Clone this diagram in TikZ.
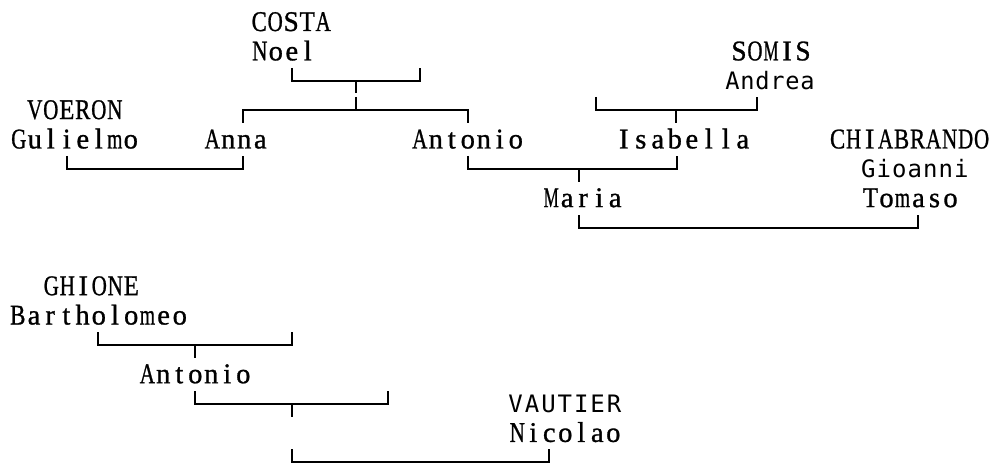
\documentclass[tikz,border=0pt]{standalone}
\usepackage{graphicx}
\usepackage{fontspec}
\newfontfamily\serifmono[FakeBold=1.0]{Liberation Serif}
\newfontfamily\sansmono{DejaVu Sans Mono}
\newlength\cellw
\newlength\glyphmax
\newsavebox\glyphbox
\newcommand\monochar[1]{\sbox\glyphbox{#1}%
  \ifdim\wd\glyphbox>\glyphmax
    \makebox[\cellw]{\resizebox{\glyphmax}{\height}{\usebox\glyphbox}}%
  \else
    \makebox[\cellw]{\usebox\glyphbox}%
  \fi}
\def\monoloop#1{\ifx\relax#1\else\monochar{#1}\expandafter\monoloop\fi}
\newcommand\mono[2]{\setlength\cellw{#1pt}\setlength\glyphmax{0.95\cellw}\monoloop#2\relax}
\begin{document}
\begin{tikzpicture}[x=1pt,y=-1pt,
  nm/.style={inner sep=0pt, outer sep=0pt, anchor=base west, text=black,
    font=\serifmono\fontsize{28.5pt}{28.5pt}\selectfont},
  sm/.style={nm, font=\sansmono\fontsize{24pt}{24pt}\selectfont},
  br/.style={draw=black, line width=2pt, line cap=butt, line join=miter}]
\useasboundingbox (0,0) rectangle (992,465);

% ---- names, upper tree
\node[nm] (costa)      at (251.2,31)     {\mono{16}{COSTA}};
\node[nm] (noel)       at (251.8,60.35)  {\mono{16}{Noel}};
\node[nm] (somis)      at (731,60.35)    {\mono{16}{SOMIS}};
\node[sm] (andrea)     at (725.1,89.7)   {\mono{15}{Andrea}};
\node[nm] (voeron)     at (26.8,119.05)  {\mono{16}{VOERON}};
\node[nm] (gulielmo)   at (10.8,148.4)   {\mono{16}{Gulielmo}};
\node[nm] (anna)       at (204.3,148.4)  {\mono{16}{Anna}};
\node[nm] (antonio)    at (411.8,148.4)  {\mono{16}{Antonio}};
\node[nm] (isabella)   at (615.3,148.4)  {\mono{17}{Isabella}};
\node[nm] (chiabrando) at (829.6,148.4)  {\mono{16}{CHIABRANDO}};
\node[sm] (gioanni)    at (860.6,177.75) {\mono{15.5}{Gioanni}};
\node[nm] (maria)      at (543.2,207.1)  {\mono{16}{Maria}};
\node[nm] (tomaso)     at (862.5,207.1)  {\mono{16}{Tomaso}};

% ---- names, lower tree
\node[nm] (ghione)      at (43.3,295.15)  {\mono{16}{GHIONE}};
\node[nm] (bartholomeo) at (9.7,324.5)    {\mono{16.2}{Bartholomeo}};
\node[nm] (antonioB)    at (139.3,383.2)  {\mono{16}{Antonio}};
\node[sm] (vautier)     at (507.5,412.55) {\mono{16.4}{VAUTIER}};
\node[nm] (nicolao)     at (509.3,441.9)  {\mono{16}{Nicolao}};

% ---- bracket points
\coordinate (nA) at (292,68);   \coordinate (nJ) at (356,81);
\coordinate (nB) at (420,68);   \coordinate (nD) at (356,93);
\coordinate (sA) at (243,123);  \coordinate (sJ) at (356,110);
\coordinate (sB) at (468,123);  \coordinate (sU) at (356,97);
\coordinate (oA) at (596,97);   \coordinate (oJ) at (676,110);
\coordinate (oB) at (757,97);   \coordinate (oD) at (676,123);
\coordinate (gA) at (67,156);   \coordinate (gJ) at (155,169);
\coordinate (gB) at (243,156);
\coordinate (aA) at (468,156);  \coordinate (aJ) at (579,169);
\coordinate (aB) at (677,156);  \coordinate (aD) at (579,182);
\coordinate (mA) at (579,215);  \coordinate (mJ) at (750,228);
\coordinate (mB) at (918,215);
\coordinate (bA) at (98,332);   \coordinate (bJ) at (195,345);
\coordinate (bB) at (292,332);  \coordinate (bD) at (195,358);
\coordinate (cA) at (195,391);  \coordinate (cJ) at (292,404);
\coordinate (cB) at (388,391);  \coordinate (cD) at (292,417);
\coordinate (dA) at (292,449);  \coordinate (dJ) at (420,462);
\coordinate (dB) at (549,449);

% ---- brackets
\draw[br] (nA) |- (nJ) -| (nB);  \draw[br] (nJ) -- (nD);
\draw[br] (sA) |- (sJ) -| (sB);  \draw[br] (sU) -- (sJ);
\draw[br] (oA) |- (oJ) -| (oB);  \draw[br] (oJ) -- (oD);
\draw[br] (gA) |- (gJ) -| (gB);
\draw[br] (aA) |- (aJ) -| (aB);  \draw[br] (aJ) -- (aD);
\draw[br] (mA) |- (mJ) -| (mB);
\draw[br] (bA) |- (bJ) -| (bB);  \draw[br] (bJ) -- (bD);
\draw[br] (cA) |- (cJ) -| (cB);  \draw[br] (cJ) -- (cD);
\draw[br] (dA) |- (dJ) -| (dB);
\end{tikzpicture}
\end{document}
